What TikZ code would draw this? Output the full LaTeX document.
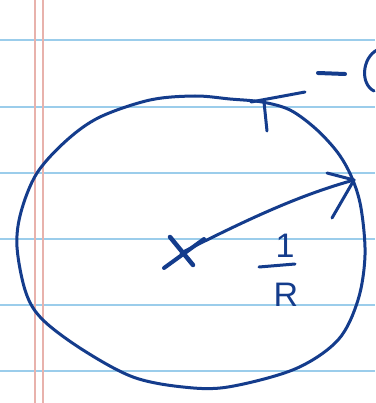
\documentclass[tikz,border=0pt]{standalone}
\usepackage{fontspec}
\setsansfont{Liberation Sans}
\definecolor{ink}{RGB}{20,60,140}
\definecolor{rule}{RGB}{155,205,235}
\definecolor{margin}{RGB}{232,178,172}
\begin{document}
\begin{tikzpicture}[x=1pt,y=-1pt,
  inkline/.style={draw=ink,line width=3pt,line cap=round,line join=round},
  paperline/.style={draw=rule,line width=1.3pt},
  marginline/.style={draw=margin,line width=1.1pt},
  hand/.style={text=ink,inner sep=0pt,font=\fontsize{34}{38}\selectfont\sffamily}]
\useasboundingbox[fill=white] (0,0) rectangle (375,403);
% paper rules
\foreach \yy in {40,107,173,239,305,371}
  \draw[paperline] (0,\yy) -- (375,\yy);
\draw[marginline] (35,0) -- (35,403);
\draw[marginline] (43,0) -- (43,403);
% circle
\draw[inkline] plot[smooth cycle,tension=0.55] coordinates {
  (195,96) (230,99) (262,102) (290,110) (316,129) (338,153) (352,178)
  (361,208) (365,255) (358,300) (338,340) (295,369) (228,387) (183,387)
  (133,377) (83,350) (43,320) (26,293) (17,247) (21,212) (37,173)
  (67,140) (100,117) (150,100)};
% tick at top
\coordinate (t1) at (251,102);
\coordinate (t2) at (305,92);
\coordinate (s1) at (264,102);
\coordinate (s2) at (267,131);
\draw[inkline] (t1) -- (t2);
\draw[inkline] (s1) -- (s2);
% centre cross
\coordinate (x1) at (170,237);
\coordinate (x2) at (193,265);
\coordinate (x3) at (164,268);
\coordinate (x4) at (204,239);
\draw[inkline,line width=4.5pt] (x1) -- (x2);
\draw[inkline,line width=4pt] (x3) -- (x4);
% radius arrow
\coordinate (c) at (181,253);
\coordinate (tip) at (354,180);
\coordinate (w1) at (327,173);
\coordinate (w2) at (332,218);
\draw[inkline] (c) .. controls (250,218) and (300,195) .. (tip);
\draw[inkline] (w1) -- (tip) -- (w2);
% label 1/R
\node[hand] (one) at (285,246) {1};
\coordinate (b1) at (259,267);
\coordinate (b2) at (295,264);
\draw[inkline] (b1) -- (b2);
\node[hand] (r) at (286,295) {R};
% top right fragment
\coordinate (d1) at (318,73);
\coordinate (d2) at (345,74);
\draw[inkline,line width=4pt] (d1) -- (d2);
\coordinate (p1) at (377,50);
\coordinate (p2) at (374,91);
\draw[inkline] (p1) .. controls (362,58) and (360,84) .. (p2);
\end{tikzpicture}
\end{document}
